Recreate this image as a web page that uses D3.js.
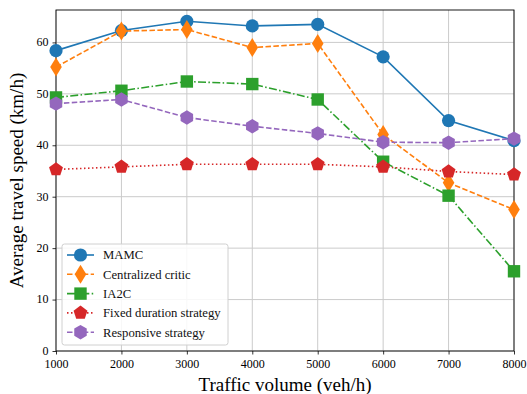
<!DOCTYPE html>
<html>
<head>
<meta charset="utf-8">
<script src="https://cdn.jsdelivr.net/npm/d3@7"></script>
<style>
body{margin:0;background:#fff;}
svg{font-family:"Liberation Serif","DejaVu Serif",serif;}
</style>
</head>
<body>
<div id="chart"></div>
<script>
// traffic volume (veh/h)
var volumes = [1000, 2000, 3000, 4000, 5000, 6000, 7000, 8000];
var mamc = [58.4, 62.3, 64.1, 63.2, 63.5, 57.2, 44.8, 40.9];
var central = [55.2, 62.2, 62.5, 59.0, 59.8, 42.1, 32.7, 27.5];
var ia2c = [49.3, 50.6, 52.4, 51.9, 48.9, 36.8, 30.2, 15.5];
var fixed = [35.3, 35.8, 36.3, 36.3, 36.3, 35.8, 34.9, 34.3];
var responsive = [48.1, 48.9, 45.4, 43.7, 42.3, 40.6, 40.5, 41.3];
var seriesNames = ["MAMC", "Centralized critic", "IA2C", "Fixed duration strategy", "Responsive strategy"];
var yTicks = [0, 10, 20, 30, 40, 50, 60];

var W = 527, H = 394;
var m = {left: 56, right: 13, top: 10, bottom: 43};

var svg = d3.select("#chart").append("svg").attr("width", W).attr("height", H);

var x = d3.scaleLinear().domain([1000, 8000]).range([m.left, W - m.right]);
var y = d3.scaleLinear().domain([0, 66.3]).range([H - m.bottom, m.top]);

// grid
svg.append("g").selectAll("line").data(volumes).enter().append("line")
    .attr("x1", function(d){return x(d);}).attr("x2", function(d){return x(d);})
    .attr("y1", y(0)).attr("y2", m.top)
    .attr("stroke", "#cbcbcb").attr("stroke-width", 1);
svg.append("g").selectAll("line").data(yTicks).enter().append("line")
    .attr("x1", m.left).attr("x2", W - m.right)
    .attr("y1", function(d){return y(d);}).attr("y2", function(d){return y(d);})
    .attr("stroke", "#cbcbcb").attr("stroke-width", 1);

// axes
var xAxis = svg.append("g").attr("transform", "translate(0," + y(0) + ")")
    .call(d3.axisBottom(x).tickValues(volumes).tickSize(3.5).tickPadding(5).tickFormat(d3.format("d")));
var yAxis = svg.append("g").attr("transform", "translate(" + m.left + ",0)")
    .call(d3.axisLeft(y).tickValues(yTicks).tickSize(3.5).tickPadding(4));
[xAxis, yAxis].forEach(function(a){
    a.select(".domain").remove();
    a.selectAll("text").attr("font-size", 12).attr("fill", "#000")
        .style("font-family", "'Liberation Serif', serif");
    a.selectAll("line").attr("stroke", "#000").attr("stroke-width", 0.8);
});
yAxis.selectAll("text").attr("dy", "0.28em");

// frame
svg.append("rect").attr("x", m.left).attr("y", m.top)
    .attr("width", W - m.right - m.left).attr("height", y(0) - m.top)
    .attr("fill", "none").attr("stroke", "#000").attr("stroke-width", 0.9);

// symbol paths
function polygon(n, r, rot) {
    var pts = [];
    for (var i = 0; i < n; i++) {
        var a = rot + i * 2 * Math.PI / n;
        pts.push([r * Math.sin(a), -r * Math.cos(a)]);
    }
    return "M" + pts.map(function(p){return p[0].toFixed(2) + "," + p[1].toFixed(2);}).join("L") + "Z";
}
var markers = [
    function(){return d3.symbol().type(d3.symbolCircle).size(Math.PI * 6.6 * 6.6)();},
    function(){return "M0,-9.5L5.8,0L0,9.5L-5.8,0Z";},
    function(){return "M-6.2,-6.2L6.2,-6.2L6.2,6.2L-6.2,6.2Z";},
    function(){return polygon(5, 7.3, 0);},
    function(){return polygon(6, 7.2, 0);}
];
var colors = ["#1f77b4", "#ff7f0e", "#2ca02c", "#d62728", "#9467bd"];
var dashes = [null, "5.5,2.4", "8,2.4,1.5,2.4", "1.5,2.5", "5.5,2.4"];
var allSeries = [mamc, central, ia2c, fixed, responsive];

var line = d3.line().x(function(d, i){return x(volumes[i]);}).y(function(d){return y(d);});

allSeries.forEach(function(vals, k){
    var g = svg.append("g");
    g.append("path").datum(vals).attr("d", line)
        .attr("fill", "none").attr("stroke", colors[k]).attr("stroke-width", 1.6)
        .attr("stroke-dasharray", dashes[k]);
    g.selectAll("path.mk").data(vals).enter().append("path").attr("class", "mk")
        .attr("transform", function(d, i){return "translate(" + x(volumes[i]) + "," + y(d) + ")";})
        .attr("d", markers[k]()).attr("fill", colors[k]);
});

// legend
var lg = svg.append("g");
lg.append("rect").attr("x", 62).attr("y", 244).attr("width", 166).attr("height", 101)
    .attr("rx", 2.5).attr("fill", "#fff").attr("fill-opacity", 0.85)
    .attr("stroke", "#d0d0d0").attr("stroke-width", 1);
seriesNames.forEach(function(name, k){
    var ly = 255 + k * 19.3;
    lg.append("line").attr("x1", 67).attr("x2", 94).attr("y1", ly).attr("y2", ly)
        .attr("stroke", colors[k]).attr("stroke-width", 1.6).attr("stroke-dasharray", dashes[k]);
    lg.append("path").attr("transform", "translate(80.5," + ly + ")")
        .attr("d", markers[k]()).attr("fill", colors[k]);
    lg.append("text").attr("x", 103).attr("y", ly + 4.4).attr("font-size", 12.7)
        .attr("fill", "#111").text(name);
});

// axis titles
svg.append("text").attr("x", (m.left + W - m.right) / 2).attr("y", 391)
    .attr("text-anchor", "middle").attr("font-size", 19).attr("fill", "#000")
    .text("Traffic volume (veh/h)");
svg.append("text").attr("transform", "translate(23," + ((m.top + y(0)) / 2) + ") rotate(-90)")
    .attr("text-anchor", "middle").attr("font-size", 19).attr("fill", "#000")
    .text("Average travel speed (km/h)");
</script>
</body>
</html>
